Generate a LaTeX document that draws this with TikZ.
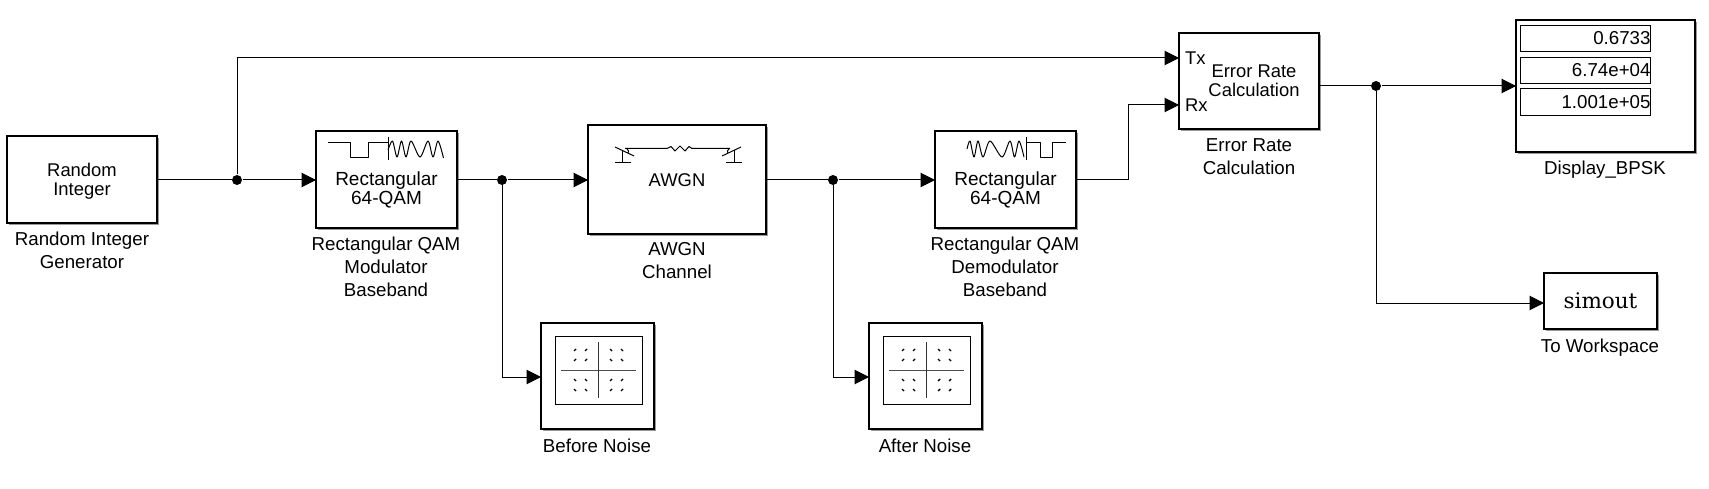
\documentclass[tikz,border=0pt]{standalone}
\usepackage{fontspec}
\setmainfont{Liberation Sans}
\newfontfamily\serifout{DejaVu Serif}
\usetikzlibrary{arrows.meta,shadows}
\begin{document}
\begin{tikzpicture}[x=1pt, y=-1pt, line width=1pt,
    block/.style={draw, line width=1.15pt, fill=white, inner sep=0pt, outer sep=0pt, align=center,
      font=\fontsize{18.4}{19}\selectfont,
      drop shadow={shadow xshift=2pt, shadow yshift=-2pt, fill=black, opacity=0.4}},
    blocktext/.style={align=center, inner sep=0pt, font=\fontsize{19}{19}\selectfont},
    caption/.style={align=center, font=\fontsize{18.7}{23}\selectfont},
    wire/.style={-{Triangle[length=14.5pt,width=14.5pt]}},
    joint/.style={circle, fill=black, inner sep=0pt, minimum size=10pt},
    iconline/.style={line width=1pt, line join=round},
    readout/.style={draw, line width=1pt, inner sep=0pt, anchor=east, text width=130pt, align=right,
      minimum height=26.5pt, font=\fontsize{18.7}{19}\selectfont}]

  \useasboundingbox (0,0) rectangle (1709,489);

  % Blocks on the main line
  \node[block, minimum width=150pt, minimum height=87pt] (source) at (82,179.5) {};
  \node[blocktext, font=\fontsize{18.4}{19}\selectfont] (sourcetext) at (82,181) {Random\\Integer};
  \node[block, minimum width=141pt, minimum height=97pt] (modulator) at (386.5,179.5) {};
  \node[blocktext] (modtext) at (386.5,189.5) {Rectangular\\64-QAM};
  \node[block, minimum width=178pt, minimum height=109pt] (channel) at (677,179.5) {};
  \node[blocktext, font=\fontsize{18.4}{19}\selectfont] (chantext) at (677,180) {AWGN};
  \node[block, minimum width=141pt, minimum height=97pt] (demodulator) at (1005.5,179.5) {};
  \node[blocktext] (demodtext) at (1005.5,189.5) {Rectangular\\64-QAM};

  % Error rate, display, workspace
  \node[block, minimum width=140pt, minimum height=96pt] (errorrate) at (1249,81) {};
  \node[blocktext, font=\fontsize{18.4}{19}\selectfont] (errortext) at (1254,80.5) {Error Rate\\Calculation};
  \node[font=\fontsize{18.4}{19}\selectfont, anchor=west, inner sep=0pt] (txport) at (1184.5,58) {Tx};
  \node[font=\fontsize{18.4}{19}\selectfont, anchor=west, inner sep=0pt] (rxport) at (1184.5,105) {Rx};
  \node[block, minimum width=179pt, minimum height=132pt] (display) at (1605.5,86) {};
  \node[readout] (rateval) at (1651,38.5) {0.6733\hspace{4pt}};
  \node[readout] (errval) at (1651,70.5) {6.74e+04\hspace{4pt}};
  \node[readout] (bitval) at (1651,102) {1.001e+05\hspace{4pt}};
  \node[block, minimum width=113pt, minimum height=56pt, font=\serifout\fontsize{21.5}{24}\selectfont] (workspace) at (1600.5,301) {simout};

  % Scopes
  \node[block, minimum width=113pt, minimum height=106pt] (before) at (597.5,376) {};
  \node[block, minimum width=113pt, minimum height=106pt] (after) at (925.5,376) {};
  \foreach \name/\dx in {beforeicon/0, aftericon/328} {
    \begin{scope}[shift={(\dx,0)}]
      \node[draw, line width=1pt, minimum width=87pt, minimum height=68pt, inner sep=0pt] (\name) at (598.5,370) {};
      \draw[line width=1pt, black!70] (561,370) -- (636,370);
      \draw[line width=1pt, black!80] (598,342) -- (598,398);
      % Constellation ticks
      \foreach \qx/\qy/\qs in {575/350/1, 586/350/1, 575/360/1, 586/360/1,
          611/350/-1, 622/350/-1, 611/360/-1, 622/360/-1,
          575/380/-1, 586/380/-1, 575/390/-1, 586/390/-1,
          611/380/1, 622/380/1, 611/390/1, 622/390/1} {
        \draw[line width=1.4pt] ({\qx-\qs},\qy+1) -- ({\qx+\qs},\qy-1);
      }
    \end{scope}
  }

  % Captions
  \node[caption, anchor=north] (sourcecap) at (82,228) {Random Integer\\Generator};
  \node[caption, anchor=north] (modcap) at (386,233) {Rectangular QAM\\Modulator\\Baseband};
  \node[caption, anchor=north] (chancap) at (677,239) {AWGN\\Channel};
  \node[caption, anchor=north] (demodcap) at (1005,233) {Rectangular QAM\\Demodulator\\Baseband};
  \node[caption, anchor=north] (errorcap) at (1249,135) {Error Rate\\Calculation};
  \node[caption, anchor=north] (displaycap) at (1605,157) {Display\_BPSK};
  \node[caption, anchor=north] (workspacecap) at (1600,335) {To Workspace};
  \node[caption, anchor=north] (beforecap) at (597,435) {Before Noise};
  \node[caption, anchor=north] (aftercap) at (925,435) {After Noise};

  % Junctions
  \node[joint] (split1) at (237,180) {};
  \node[joint] (split2) at (502,180) {};
  \node[joint] (split3) at (833,180) {};
  \node[joint] (split4) at (1376,86) {};
  \coordinate (rxbend) at (1128,105);
  \coordinate (workspacein) at (1544,303);
  \coordinate (beforein) at (541,377);
  \coordinate (afterin) at (869,377);

  % Connectors
  \draw (source.east |- split1) -- (split1);
  \draw[wire] (split1) -- (modulator.west |- split1);
  \draw (modulator.east |- split2) -- (split2);
  \draw[wire] (split2) -- (channel.west |- split2);
  \draw (channel.east |- split3) -- (split3);
  \draw[wire] (split3) -- (demodulator.west |- split3);
  \draw[wire] (split1) |- (errorrate.west |- txport);
  \draw[wire] (demodulator.east |- split3) -| (rxbend) -- (errorrate.west |- rxport);
  \draw (errorrate.east |- split4) -- (split4);
  \draw[wire] (split4) -- (display.west |- split4);
  \draw[wire] (split4) |- (workspacein);
  \draw[wire] (split2) |- (beforein);
  \draw[wire] (split3) |- (afterin);

  % Modulator icon
  \draw[iconline] (328,143) -- (350,143) -- (350,158) -- (368,158) -- (368,143) -- (388,143);
  \draw[iconline] (388,137) -- (388,160);
  \draw[iconline] plot[smooth, tension=0.5] coordinates {(388,150) (392.5,141) (397,157) (401.5,141) (406,157) (411,141) (420,157) (428,141) (433,157) (438,141) (443.5,158)};

  % Demodulator icon
  \draw[iconline] (1066,143) -- (1052,143) -- (1052,158) -- (1040,158) -- (1040,143) -- (1026,143);
  \draw[iconline] (1026,137) -- (1026,160);
  \draw[iconline] plot[smooth, tension=0.5] coordinates {(967,149) (970,141) (974,157) (978,141) (983,157) (990,141) (1002,157) (1010,141) (1014.5,157) (1019,141) (1024,157)};

  % Channel icon
  \draw[iconline] (625,148.5) -- (667,148.5) -- (671,146.5) -- (675,151) -- (680,146) -- (685,151) -- (689,146.5) -- (692,148.5) -- (730,148.5);
  \draw[iconline] (615,147) -- (634,156);
  \draw[iconline] (622,150) -- (622,163);
  \draw[iconline] (615,163) -- (631,163);
  \draw[iconline] (627,149) .. controls (629,150) and (629,152) .. (628,153);
  \draw[iconline] (741,147) -- (722,156);
  \draw[iconline] (734,150) -- (734,163);
  \draw[iconline] (726,163) -- (742,163);
  \draw[iconline] (729,149) .. controls (727,150) and (727,152) .. (728,153);
\end{tikzpicture}
\end{document}
